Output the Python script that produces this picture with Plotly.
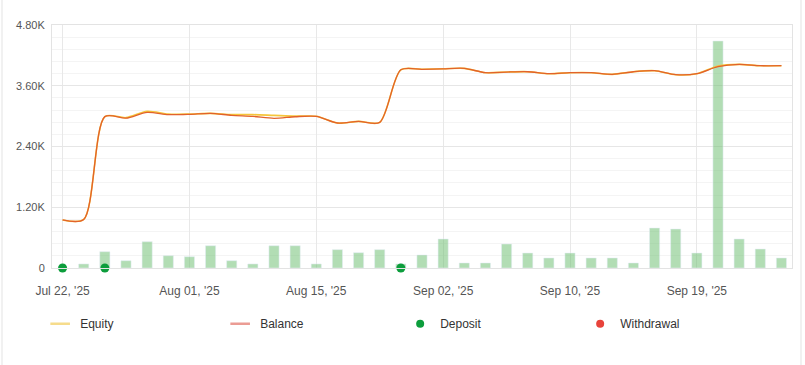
import plotly.graph_objects as go

dates = ["Jul 22", "Jul 23", "Jul 24", "Jul 25", "Jul 28", "Jul 30", "Aug 01", "Aug 04", "Aug 05",
         "Aug 07", "Aug 11", "Aug 13", "Aug 15", "Aug 18", "Aug 20", "Aug 22", "Aug 26", "Aug 29",
         "Sep 02", "Sep 03", "Sep 04", "Sep 05", "Sep 08", "Sep 09", "Sep 10", "Sep 11", "Sep 12",
         "Sep 15", "Sep 16", "Sep 18", "Sep 19", "Sep 22", "Sep 23", "Sep 24", "Sep 25"]

balance = [950, 960, 2990, 2960, 3075, 3030, 3035, 3055, 3015, 2995, 2956, 2988, 2996, 2864,
           2897, 2877, 3915, 3925, 3935, 3944, 3858, 3871, 3877, 3838, 3858, 3858, 3825, 3877,
           3897, 3818, 3838, 3976, 4022, 3996, 3996]
equity = [950, 960, 2990, 2970, 3095, 3040, 3040, 3055, 3030, 3030, 3015, 3000, 2996, 2864,
          2897, 2877, 3915, 3925, 3935, 3944, 3858, 3871, 3877, 3838, 3858, 3858, 3825, 3877,
          3897, 3818, 3838, 3990, 4022, 3996, 3996]
volume = [0, 80, 322, 144, 520, 243, 223, 440, 144, 80, 440, 440, 80, 362, 302, 362, 80, 257,
          573, 99, 99, 474, 296, 198, 296, 198, 198, 99, 790, 770, 296, 4484, 573, 375, 198]
deposit_dates = ["Jul 22", "Jul 24", "Aug 26"]
deposit_values = [0, 0, 0]

tick_dates = ["Jul 22", "Aug 01", "Aug 15", "Sep 02", "Sep 10", "Sep 19"]
tick_labels = ["Jul 22, '25", "Aug 01, '25", "Aug 15, '25", "Sep 02, '25", "Sep 10, '25", "Sep 19, '25"]
y_ticks = [0, 1200, 2400, 3600, 4800]
y_labels = ["0", "1.20K", "2.40K", "3.60K", "4.80K"]

EQ = "#f5c53b"
BAL = "#e2622b"
EQ_LEG = "#f6dc8c"
BAL_LEG = "#eb9c94"
DEP = "#0c9d3c"
WD = "#e8433b"

fig = go.Figure()
fig.add_trace(go.Bar(x=dates, y=volume, marker_color="rgba(102,187,106,0.5)", width=0.48,
                     showlegend=False, hoverinfo="skip"))
fig.add_trace(go.Scatter(x=dates, y=equity, mode="lines", line=dict(color=EQ, width=1.6, shape="spline", smoothing=0.8),
                         showlegend=False))
fig.add_trace(go.Scatter(x=dates, y=balance, mode="lines", line=dict(color=BAL, width=1.3, shape="spline", smoothing=0.8),
                         showlegend=False))
fig.add_trace(go.Scatter(x=deposit_dates, y=deposit_values, mode="markers", marker=dict(color=DEP, size=9),
                         cliponaxis=False, showlegend=False))

# legend entries
fig.add_trace(go.Scatter(x=[None], y=[None], mode="markers", name="Equity",
                         marker=dict(symbol="line-ew", size=14, line=dict(width=2.5, color=EQ_LEG))))
fig.add_trace(go.Scatter(x=[None], y=[None], mode="markers", name="Balance",
                         marker=dict(symbol="line-ew", size=14, line=dict(width=2.5, color=BAL_LEG))))
fig.add_trace(go.Scatter(x=[None], y=[None], mode="markers", name="Deposit",
                         marker=dict(color=DEP, size=8)))
fig.add_trace(go.Scatter(x=[None], y=[None], mode="markers", name="Withdrawal",
                         marker=dict(color=WD, size=8)))

fig.update_layout(
    width=805, height=365,
    margin=dict(l=52, r=13, t=25, b=97, autoexpand=False),
    paper_bgcolor="white", plot_bgcolor="white",
    font=dict(family="Liberation Sans, Arial, sans-serif", size=12, color="#555555"),
    bargap=0.5,
    legend=dict(orientation="h", x=-0.016, xanchor="left", y=-0.17, yanchor="top",
                entrywidth=135, entrywidthmode="pixels", itemwidth=30,
                font=dict(size=12, color="#333333"), bgcolor="rgba(0,0,0,0)"),
    xaxis=dict(type="category", categoryorder="array", categoryarray=dates,
               range=[-0.5, len(dates) - 0.5],
               tickmode="array", tickvals=tick_dates, ticktext=tick_labels,
               showgrid=True, gridcolor="#e8e8e8", gridwidth=1,
               showline=True, linecolor="#e3e3e3", linewidth=1, mirror=True,
               ticks="", tickfont=dict(size=12, color="#555555"), zeroline=False,
               ticklabelstandoff=12),
    yaxis=dict(range=[0, 4800], tickmode="array", tickvals=y_ticks, ticktext=y_labels,
               showgrid=True, gridcolor="#e6e6e6", gridwidth=1,
               minor=dict(dtick=240, tick0=0, showgrid=True, gridcolor="#f4f4f4", gridwidth=1),
               showline=True, linecolor="#e3e3e3", linewidth=1, mirror=True,
               ticks="", tickfont=dict(size=11, color="#555555"), zeroline=False,
               ticklabelstandoff=4),
    shapes=[
        dict(type="line", xref="paper", yref="paper", x0=-50/740, x1=-50/740, y0=-97/243, y1=25/243 + 1,
             line=dict(color="#e3e3e3", width=1)),
        dict(type="line", xref="paper", yref="paper", x0=1 + 9/740, x1=1 + 9/740, y0=-97/243, y1=25/243 + 1,
             line=dict(color="#e3e3e3", width=1)),
    ],
)

fig.write_html("out.html")
